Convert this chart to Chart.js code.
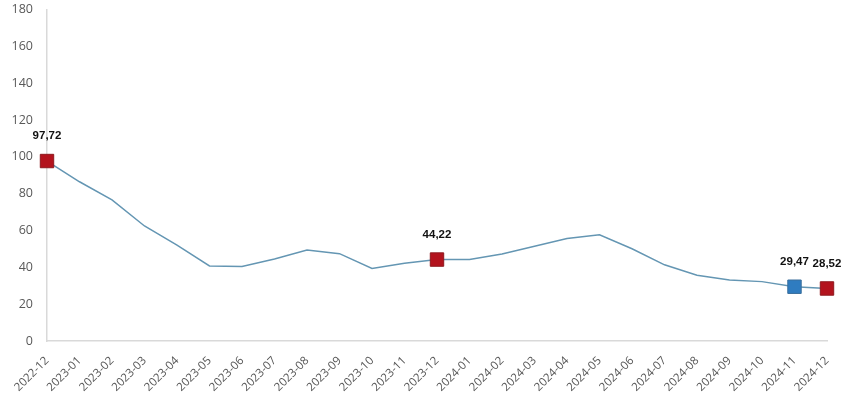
<!DOCTYPE html>
<html>
<head>
<meta charset="utf-8">
<script src="https://cdn.jsdelivr.net/npm/chart.js@4"></script>
<style>
    html, body { margin: 0; padding: 0; background: #fff; }
    #wrap { width: 850px; height: 406px; }
</style>
</head>
<body>
<div id="wrap"><canvas id="chart"></canvas></div>
<script>
// Data
const months = ['2022-12', '2023-01', '2023-02', '2023-03', '2023-04', '2023-05', '2023-06', '2023-07', '2023-08', '2023-09', '2023-10', '2023-11', '2023-12',
    '2024-01', '2024-02', '2024-03', '2024-04', '2024-05', '2024-06', '2024-07', '2024-08', '2024-09', '2024-10', '2024-11', '2024-12'];
const values = [97.72, 86.46, 76.61, 62.45, 52.11, 40.76, 40.42, 44.50, 49.41, 47.44, 39.39, 42.25, 44.22,
    44.20, 47.29, 51.47, 55.66, 57.68, 50.09, 41.37, 35.75, 33.09, 32.24, 29.47, 28.52];
const yTicks = [0, 20, 40, 60, 80, 100, 120, 140, 160, 180];
const redPoints = [0, 12, 24];
const bluePoints = [23];

const marked = i => redPoints.includes(i) || bluePoints.includes(i);
const fillFor = i => bluePoints.includes(i) ? '#2f7cc0' : '#b3131d';
const edgeFor = i => bluePoints.includes(i) ? '#3a6f9c' : '#8e1a1f';

// Value labels above marked points
const pointLabels = {
    id: 'pointLabels',
    afterDatasetsDraw(chart) {
        const ctx = chart.ctx;
        const meta = chart.getDatasetMeta(0);
        ctx.save();
        ctx.font = 'bold 11.5px "Liberation Sans", Arial, sans-serif';
        ctx.fillStyle = '#111';
        ctx.textAlign = 'center';
        ctx.textBaseline = 'middle';
        meta.data.forEach((pt, i) => {
            if (!marked(i)) return;
            const txt = values[i].toFixed(2).replace('.', ',');
            ctx.fillText(txt, pt.x, pt.y - 25);
        });
        ctx.restore();
    }
};

new Chart(document.getElementById('chart'), {
    type: 'line',
    data: {
        labels: months,
        datasets: [{
            data: values,
            borderColor: '#6496b3',
            borderWidth: 1.5,
            tension: 0,
            pointStyle: 'rect',
            pointRadius: values.map((v, i) => marked(i) ? 9.5 : 0),
            pointHoverRadius: values.map((v, i) => marked(i) ? 9.5 : 0),
            pointBackgroundColor: values.map((v, i) => fillFor(i)),
            pointBorderColor: values.map((v, i) => edgeFor(i)),
            pointBorderWidth: 1
        }]
    },
    options: {
        responsive: true,
        maintainAspectRatio: false,
        animation: false,
        layout: { autoPadding: false, padding: { top: 1, right: 23, left: 0, bottom: 0 } },
        plugins: {
            legend: { display: false },
            tooltip: { enabled: false }
        },
        scales: {
            x: {
                grid: { display: false, drawTicks: false },
                border: { color: '#d9d9d9', width: 1.5 },
                ticks: {
                    color: '#555',
                    font: { family: '"Open Sans", sans-serif', size: 11.5 },
                    minRotation: 45,
                    maxRotation: 45,
                    autoSkip: false,
                    padding: 13
                },
                afterFit: s => { s.height = 65; }
            },
            y: {
                min: 0,
                max: 180,
                afterBuildTicks: s => { s.ticks = yTicks.map(v => ({ value: v })); },
                grid: { display: false, drawTicks: true, tickLength: 12, tickColor: 'transparent' },
                border: { color: '#d9d9d9', width: 1.5 },
                ticks: {
                    color: '#595959',
                    font: { family: '"Open Sans", sans-serif', size: 12.5 },
                    padding: 2
                },
                afterFit: s => { s.width = 47; }
            }
        }
    },
    plugins: [pointLabels]
});
</script>
</body>
</html>
